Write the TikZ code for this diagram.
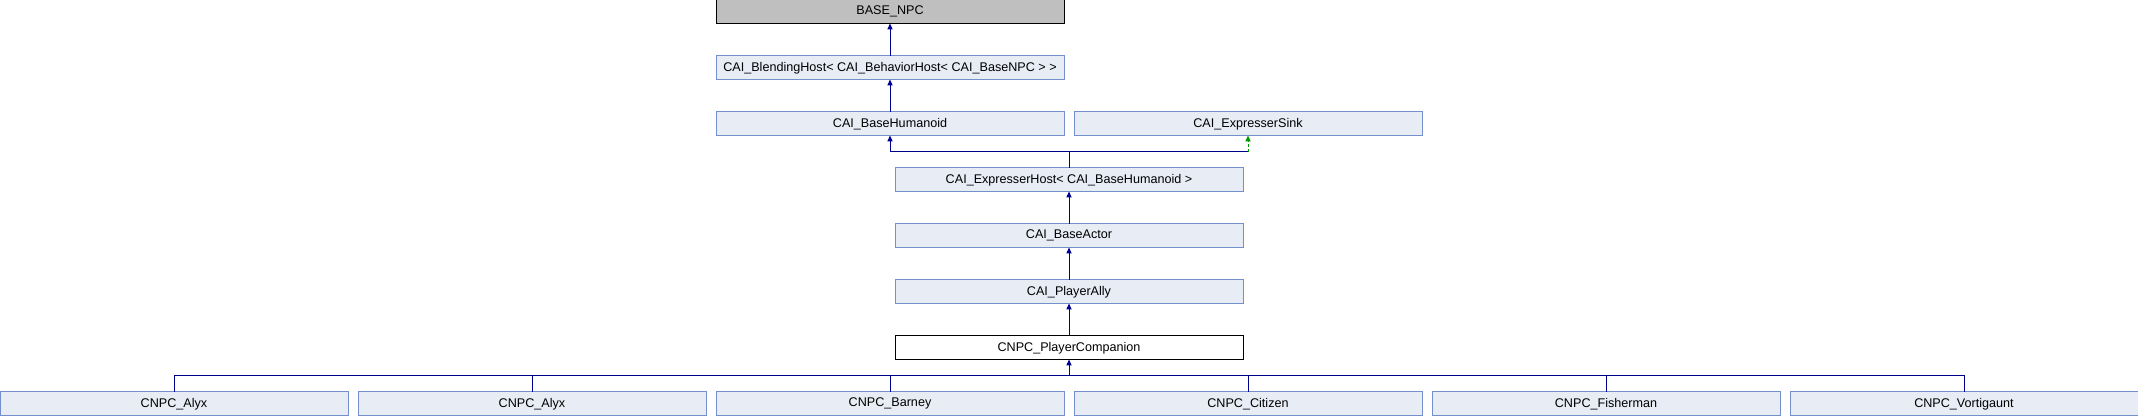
\documentclass[tikz,border=0pt]{standalone}
\usepackage{fontspec}
\setmainfont{Liberation Sans}
\usetikzlibrary{arrows.meta, calc, positioning}
\definecolor{dxfill}{HTML}{E8ECF5}
\definecolor{dxframe}{HTML}{7490CC}
\definecolor{dxgrey}{HTML}{BFBFBF}
\definecolor{dxblue}{HTML}{00008F}
\definecolor{dxgreen}{HTML}{009900}

\begin{document}
\begin{tikzpicture}[>={Triangle[length=3pt, width=2.6pt]}, node distance=16.25pt,
  classbox/.style={rectangle, draw=dxframe, fill=dxfill, line width=0.5pt, minimum width=174pt,
    minimum height=11.75pt, inner sep=0pt, outer sep=0pt, font=\fontsize{6.3}{7.5}\selectfont},
  rootbox/.style={classbox, draw=black, fill=dxgrey},
  selfbox/.style={classbox, draw=black, fill=white},
  pub/.style={dxblue, line width=0.5pt},
  prot/.style={dxgreen, line width=0.5pt, dashed, dash pattern=on 1.5pt off 1pt}]
  \useasboundingbox (0,0) rectangle (1069pt,-208pt);
  % ancestors
  \node[rootbox, anchor=north] (BaseNPC) at (445pt,0) {BASE\_NPC};
  \node[classbox, below=of BaseNPC] (Blending) {CAI\_BlendingHost< CAI\_BehaviorHost< CAI\_BaseNPC > >};
  \node[classbox, below=of Blending] (BaseHumanoid) {CAI\_BaseHumanoid};
  \node[classbox, right=5pt of BaseHumanoid] (ExpSink) {CAI\_ExpresserSink};
  \coordinate (mid) at ($(BaseHumanoid.south)!0.5!(ExpSink.south)$);
  \node[classbox, below=of mid] (ExpHost) {CAI\_ExpresserHost< CAI\_BaseHumanoid >};
  \node[classbox, below=of ExpHost] (BaseActor) {CAI\_BaseActor};
  \node[classbox, below=of BaseActor] (PlayerAlly) {CAI\_PlayerAlly};
  \node[selfbox, below=of PlayerAlly] (Companion) {CNPC\_PlayerCompanion};
  % derived classes
  \coordinate (row) at (BaseNPC.south |- Companion.south);
  \node[classbox, below=of row] (Barney) {CNPC\_Barney};
  \node[classbox, left=5pt of Barney] (AlyxB) {CNPC\_Alyx};
  \node[classbox, left=5pt of AlyxB] (AlyxA) {CNPC\_Alyx};
  \node[classbox, right=5pt of Barney] (Citizen) {CNPC\_Citizen};
  \node[classbox, right=5pt of Citizen] (Fisherman) {CNPC\_Fisherman};
  \node[classbox, right=5pt of Fisherman] (Vortigaunt) {CNPC\_Vortigaunt};

  \draw[->, pub] (Blending.north) -- (BaseNPC.south);
  \draw[->, pub] (BaseHumanoid.north) -- (Blending.south);
  \coordinate (jtop) at ($(ExpHost.north)+(0,8.125pt)$);
  \coordinate (jsink) at (ExpSink.south |- jtop);
  \draw[->, pub] (ExpHost.north) -- (jtop) -| (BaseHumanoid.south);
  \draw[pub] (jtop) -- (jsink);
  \draw[->, prot] (jsink) -- (ExpSink.south);
  \draw[->, pub] (BaseActor.north) -- (ExpHost.south);
  \draw[->, pub] (PlayerAlly.north) -- (BaseActor.south);
  \draw[->, pub] (Companion.north) -- (PlayerAlly.south);
  \coordinate (jbot) at ($(Companion.south)-(0,8.125pt)$);
  \draw[->, pub] (jbot) -- (Companion.south);
  \draw[pub] (AlyxA.north) |- (jbot) -| (Vortigaunt.north);
  \foreach \kid in {AlyxB, Barney, Citizen, Fisherman}
    \draw[pub] (\kid.north) -- (\kid.north |- jbot);
\end{tikzpicture}
\end{document}
